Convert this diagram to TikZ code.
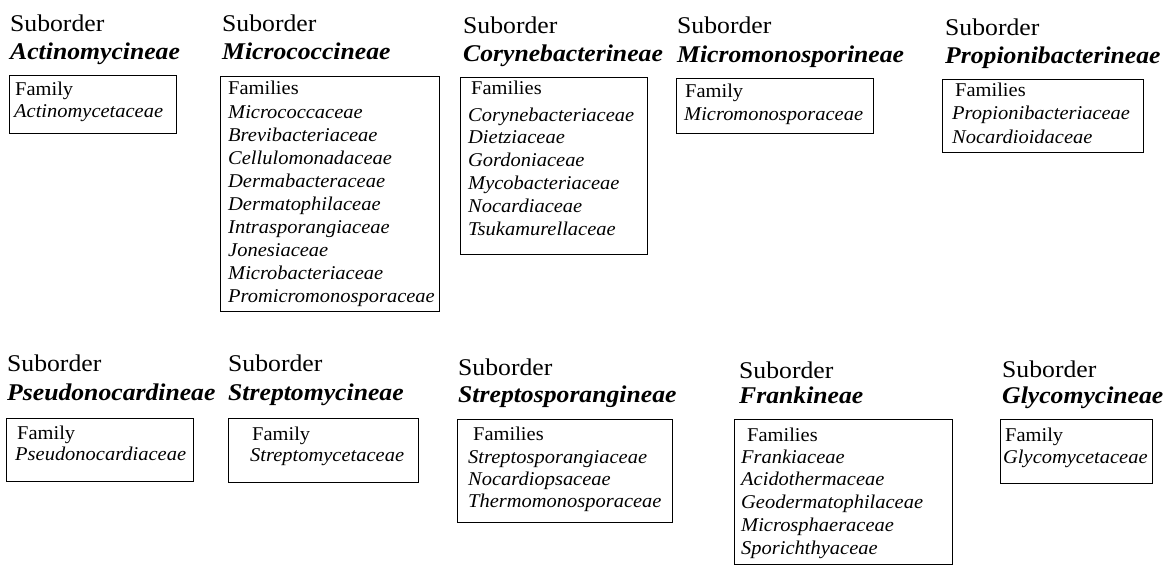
\documentclass[tikz,border=0pt]{standalone}
\usepackage{fontspec}
\setmainfont{Liberation Serif}
\newfontfamily\hdfont{Liberation Serif}[FakeStretch=1.07]
\newfontfamily\bxfont{Liberation Serif}[FakeStretch=1.05]
\tikzset{
  hd/.style={anchor=base west, inner sep=0pt, font=\hdfont\fontsize{24}{28}\selectfont},
  hdb/.style={anchor=base west, inner sep=0pt, font=\hdfont\bfseries\itshape\fontsize{24}{28}\selectfont},
  fambox/.style={draw, line width=0.8pt, inner sep=0pt, anchor=north west},
  fl/.style={anchor=base west, inner sep=0pt, font=\bxfont\fontsize{19.5}{23}\selectfont},
  fi/.style={anchor=base west, inner sep=0pt, font=\bxfont\itshape\fontsize{19.5}{23}\selectfont}
}
% #1 name, #2 x1, #3 y1, #4 x2, #5 y2
\newcommand\mybox[5]{\node[fambox, minimum width={(#4)-(#2)}, minimum height={(#5)-(#3)}] (#1) at (#2,#3) {};}
% #1 name, #2 x, #3 first baseline, #4 step, #5 list
\newcommand\mylist[5]{\foreach \t [count=\i] in {#5} {\node[fi] (#1l\i) at (#2,{#3+(\i-1)*#4}) {\t};}}
\begin{document}
\begin{tikzpicture}[x=1pt,y=-1pt]
\useasboundingbox (0,0) rectangle (1165,568);
% ---------- Row 1 ----------
% Actinomycineae
\node[hd]  (h1)  at (10,31) {Suborder};
\node[hdb] (n1)  at (10,59) {Actinomycineae};
\mybox{b1}{9}{75}{176}{133}
\node[fl]  (f1)  at (15,95) {Family};
\mylist{a}{14}{117}{23}{Actinomycetaceae}
% Micrococcineae
\node[hd]  (h2)  at (222,31) {Suborder};
\node[hdb] (n2)  at (222,59) {Micrococcineae};
\mybox{b2}{220}{76}{439}{311}
\node[fl]  (f2)  at (228,94) {Families};
\mylist{b}{228}{118}{23}{Micrococcaceae,Brevibacteriaceae,Cellulomonadaceae,Dermabacteraceae,Dermatophilaceae,Intrasporangiaceae,Jonesiaceae,Microbacteriaceae,Promicromonosporaceae}
% Corynebacterineae
\node[hd]  (h3)  at (463,33) {Suborder};
\node[hdb] (n3)  at (463,61) {Corynebacterineae};
\mybox{b3}{460}{77}{647}{254}
\node[fl]  (f3)  at (471,94) {Families};
\mylist{c}{468}{121}{22.8}{Corynebacteriaceae,Dietziaceae,Gordoniaceae,Mycobacteriaceae,Nocardiaceae,Tsukamurellaceae}
% Micromonosporineae
\node[hd]  (h4)  at (677,33) {Suborder};
\node[hdb] (n4)  at (677,62) {Micromonosporineae};
\mybox{b4}{676}{78}{873}{133}
\node[fl]  (f4)  at (685,97) {Family};
\mylist{d}{684}{120}{23}{Micromonosporaceae}
% Propionibacterineae
\node[hd]  (h5)  at (945,35) {Suborder};
\node[hdb] (n5)  at (945,63) {Propionibacterineae};
\mybox{b5}{942}{79}{1143}{152}
\node[fl]  (f5)  at (955,96) {Families};
\mylist{e}{952}{119}{24}{Propionibacteriaceae,Nocardioidaceae}
% ---------- Row 2 ----------
% Pseudonocardineae
\node[hd]  (h6)  at (7,371) {Suborder};
\node[hdb] (n6)  at (7,400) {Pseudonocardineae};
\mybox{b6}{6}{418}{193}{481}
\node[fl]  (f6)  at (17,439) {Family};
\mylist{f}{15}{460}{23}{Pseudonocardiaceae}
% Streptomycineae
\node[hd]  (h7)  at (228,371) {Suborder};
\node[hdb] (n7)  at (228,400) {Streptomycineae};
\mybox{b7}{228}{418}{418}{482}
\node[fl]  (f7)  at (252,440) {Family};
\mylist{g}{250}{461}{23}{Streptomycetaceae}
% Streptosporangineae
\node[hd]  (h8)  at (458,375) {Suborder};
\node[hdb] (n8)  at (458,402) {Streptosporangineae};
\mybox{b8}{457}{419}{672}{522}
\node[fl]  (f8)  at (473,440) {Families};
\mylist{h}{468}{463}{22}{Streptosporangiaceae,Nocardiopsaceae,Thermomonosporaceae}
% Frankineae
\node[hd]  (h9)  at (739,378) {Suborder};
\node[hdb] (n9)  at (739,403) {Frankineae};
\mybox{b9}{734}{419}{952}{564}
\node[fl]  (f9)  at (747,441) {Families};
\mylist{k}{741}{463}{22.75}{Frankiaceae,Acidothermaceae,Geodermatophilaceae,Microsphaeraceae,Sporichthyaceae}
% Glycomycineae
\node[hd]  (h10) at (1002,377) {Suborder};
\node[hdb] (n10) at (1002,403) {Glycomycineae};
\mybox{b10}{1000}{419}{1152}{483}
\node[fl]  (f10) at (1005,441) {Family};
\mylist{m}{1003}{463}{23}{Glycomycetaceae}
\end{tikzpicture}
\end{document}
